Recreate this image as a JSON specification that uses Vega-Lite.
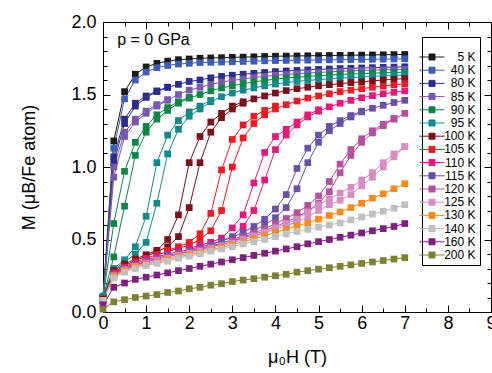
{
"$schema": "https://vega.github.io/schema/vega-lite/v6.json",
"width": 388, "height": 290,
"autosize": {"type": "none"},
"padding": {"left": 103, "top": 22, "right": 1, "bottom": 61},
"background": "white",
"config": {
 "view": {"stroke": "#000", "strokeWidth": 1},
 "axis": {"grid": false, "domain": false, "tickColor": "#000", "tickWidth": 1, "labelColor": "#000", "labelFont": "Liberation Sans", "labelFontSize": 18, "titleFont": "Liberation Sans", "titleFontSize": 18, "titleFontWeight": "normal", "titleColor": "#000"},
 "text": {"font": "Liberation Sans"}
},
"datasets": {"mh": [
{"T":"5 K","b":"u","H":0,"M":0.10},{"T":"5 K","b":"u","H":0.25,"M":1.18},{"T":"5 K","b":"u","H":0.5,"M":1.52},{"T":"5 K","b":"u","H":0.75,"M":1.64},{"T":"5 K","b":"u","H":1,"M":1.69},{"T":"5 K","b":"u","H":1.25,"M":1.715},{"T":"5 K","b":"u","H":1.5,"M":1.73},{"T":"5 K","b":"u","H":1.75,"M":1.74},{"T":"5 K","b":"u","H":2,"M":1.745},{"T":"5 K","b":"u","H":2.25,"M":1.75},{"T":"5 K","b":"u","H":2.5,"M":1.752},{"T":"5 K","b":"u","H":2.75,"M":1.754},{"T":"5 K","b":"u","H":3,"M":1.756},{"T":"5 K","b":"u","H":3.25,"M":1.758},{"T":"5 K","b":"u","H":3.5,"M":1.76},{"T":"5 K","b":"u","H":3.75,"M":1.762},{"T":"5 K","b":"u","H":4,"M":1.764},{"T":"5 K","b":"u","H":4.25,"M":1.765},{"T":"5 K","b":"u","H":4.5,"M":1.766},{"T":"5 K","b":"u","H":4.75,"M":1.767},{"T":"5 K","b":"u","H":5,"M":1.768},{"T":"5 K","b":"u","H":5.25,"M":1.769},{"T":"5 K","b":"u","H":5.5,"M":1.77},{"T":"5 K","b":"u","H":5.75,"M":1.771},{"T":"5 K","b":"u","H":6,"M":1.772},{"T":"5 K","b":"u","H":6.25,"M":1.773},{"T":"5 K","b":"u","H":6.5,"M":1.774},{"T":"5 K","b":"u","H":6.75,"M":1.775},{"T":"5 K","b":"u","H":7,"M":1.776},
{"T":"40 K","b":"u","H":0,"M":0.08},{"T":"40 K","b":"u","H":0.25,"M":1.13},{"T":"40 K","b":"u","H":0.5,"M":1.47},{"T":"40 K","b":"u","H":0.75,"M":1.60},{"T":"40 K","b":"u","H":1,"M":1.655},{"T":"40 K","b":"u","H":1.25,"M":1.685},{"T":"40 K","b":"u","H":1.5,"M":1.70},{"T":"40 K","b":"u","H":1.75,"M":1.71},{"T":"40 K","b":"u","H":2,"M":1.715},{"T":"40 K","b":"u","H":2.25,"M":1.72},{"T":"40 K","b":"u","H":2.5,"M":1.722},{"T":"40 K","b":"u","H":2.75,"M":1.724},{"T":"40 K","b":"u","H":3,"M":1.726},{"T":"40 K","b":"u","H":3.25,"M":1.728},{"T":"40 K","b":"u","H":3.5,"M":1.73},{"T":"40 K","b":"u","H":3.75,"M":1.732},{"T":"40 K","b":"u","H":4,"M":1.734},{"T":"40 K","b":"u","H":4.25,"M":1.735},{"T":"40 K","b":"u","H":4.5,"M":1.736},{"T":"40 K","b":"u","H":4.75,"M":1.737},{"T":"40 K","b":"u","H":5,"M":1.738},{"T":"40 K","b":"u","H":5.25,"M":1.739},{"T":"40 K","b":"u","H":5.5,"M":1.74},{"T":"40 K","b":"u","H":5.75,"M":1.741},{"T":"40 K","b":"u","H":6,"M":1.742},{"T":"40 K","b":"u","H":6.25,"M":1.743},{"T":"40 K","b":"u","H":6.5,"M":1.744},{"T":"40 K","b":"u","H":6.75,"M":1.745},{"T":"40 K","b":"u","H":7,"M":1.746},
{"T":"80 K","b":"u","H":0,"M":0.08},{"T":"80 K","b":"u","H":0.25,"M":1.03},{"T":"80 K","b":"u","H":0.5,"M":1.30},{"T":"80 K","b":"u","H":0.75,"M":1.42},{"T":"80 K","b":"u","H":1,"M":1.48},{"T":"80 K","b":"u","H":1.25,"M":1.52},{"T":"80 K","b":"u","H":1.5,"M":1.55},{"T":"80 K","b":"u","H":1.75,"M":1.57},{"T":"80 K","b":"u","H":2,"M":1.59},{"T":"80 K","b":"u","H":2.25,"M":1.60},{"T":"80 K","b":"u","H":2.5,"M":1.615},{"T":"80 K","b":"u","H":2.75,"M":1.625},{"T":"80 K","b":"u","H":3,"M":1.633},{"T":"80 K","b":"u","H":3.25,"M":1.64},{"T":"80 K","b":"u","H":3.5,"M":1.646},{"T":"80 K","b":"u","H":3.75,"M":1.652},{"T":"80 K","b":"u","H":4,"M":1.658},{"T":"80 K","b":"u","H":4.25,"M":1.662},{"T":"80 K","b":"u","H":4.5,"M":1.666},{"T":"80 K","b":"u","H":4.75,"M":1.67},{"T":"80 K","b":"u","H":5,"M":1.673},{"T":"80 K","b":"u","H":5.25,"M":1.676},{"T":"80 K","b":"u","H":5.5,"M":1.679},{"T":"80 K","b":"u","H":5.75,"M":1.681},{"T":"80 K","b":"u","H":6,"M":1.683},{"T":"80 K","b":"u","H":6.25,"M":1.685},{"T":"80 K","b":"u","H":6.5,"M":1.687},{"T":"80 K","b":"u","H":6.75,"M":1.689},{"T":"80 K","b":"u","H":7,"M":1.691},
{"T":"80 K","b":"d","H":0,"M":0.09},{"T":"80 K","b":"d","H":0.25,"M":1.07},{"T":"80 K","b":"d","H":0.5,"M":1.33},{"T":"80 K","b":"d","H":0.75,"M":1.44},{"T":"80 K","b":"d","H":1,"M":1.49},{"T":"80 K","b":"d","H":1.25,"M":1.525},{"T":"80 K","b":"d","H":1.5,"M":1.55},
{"T":"85 K","b":"u","H":0,"M":0.08},{"T":"85 K","b":"u","H":0.25,"M":0.93},{"T":"85 K","b":"u","H":0.5,"M":1.21},{"T":"85 K","b":"u","H":0.75,"M":1.31},{"T":"85 K","b":"u","H":1,"M":1.37},{"T":"85 K","b":"u","H":1.25,"M":1.42},{"T":"85 K","b":"u","H":1.5,"M":1.46},{"T":"85 K","b":"u","H":1.75,"M":1.50},{"T":"85 K","b":"u","H":2,"M":1.53},{"T":"85 K","b":"u","H":2.25,"M":1.55},{"T":"85 K","b":"u","H":2.5,"M":1.57},{"T":"85 K","b":"u","H":2.75,"M":1.585},{"T":"85 K","b":"u","H":3,"M":1.597},{"T":"85 K","b":"u","H":3.25,"M":1.607},{"T":"85 K","b":"u","H":3.5,"M":1.617},{"T":"85 K","b":"u","H":3.75,"M":1.625},{"T":"85 K","b":"u","H":4,"M":1.632},{"T":"85 K","b":"u","H":4.25,"M":1.638},{"T":"85 K","b":"u","H":4.5,"M":1.643},{"T":"85 K","b":"u","H":4.75,"M":1.648},{"T":"85 K","b":"u","H":5,"M":1.652},{"T":"85 K","b":"u","H":5.25,"M":1.656},{"T":"85 K","b":"u","H":5.5,"M":1.66},{"T":"85 K","b":"u","H":5.75,"M":1.663},{"T":"85 K","b":"u","H":6,"M":1.666},{"T":"85 K","b":"u","H":6.25,"M":1.668},{"T":"85 K","b":"u","H":6.5,"M":1.67},{"T":"85 K","b":"u","H":6.75,"M":1.672},{"T":"85 K","b":"u","H":7,"M":1.674},
{"T":"85 K","b":"d","H":0,"M":0.09},{"T":"85 K","b":"d","H":0.25,"M":1.00},{"T":"85 K","b":"d","H":0.5,"M":1.24},{"T":"85 K","b":"d","H":0.75,"M":1.33},{"T":"85 K","b":"d","H":1,"M":1.385},{"T":"85 K","b":"d","H":1.25,"M":1.43},{"T":"85 K","b":"d","H":1.5,"M":1.465},
{"T":"90 K","b":"u","H":0,"M":0.10},{"T":"90 K","b":"u","H":0.25,"M":0.38},{"T":"90 K","b":"u","H":0.5,"M":0.73},{"T":"90 K","b":"u","H":0.75,"M":1.08},{"T":"90 K","b":"u","H":1,"M":1.24},{"T":"90 K","b":"u","H":1.25,"M":1.33},{"T":"90 K","b":"u","H":1.5,"M":1.39},{"T":"90 K","b":"u","H":1.75,"M":1.44},{"T":"90 K","b":"u","H":2,"M":1.475},{"T":"90 K","b":"u","H":2.25,"M":1.50},{"T":"90 K","b":"u","H":2.5,"M":1.525},{"T":"90 K","b":"u","H":2.75,"M":1.545},{"T":"90 K","b":"u","H":3,"M":1.56},{"T":"90 K","b":"u","H":3.25,"M":1.575},{"T":"90 K","b":"u","H":3.5,"M":1.587},{"T":"90 K","b":"u","H":3.75,"M":1.597},{"T":"90 K","b":"u","H":4,"M":1.606},{"T":"90 K","b":"u","H":4.25,"M":1.613},{"T":"90 K","b":"u","H":4.5,"M":1.62},{"T":"90 K","b":"u","H":4.75,"M":1.625},{"T":"90 K","b":"u","H":5,"M":1.63},{"T":"90 K","b":"u","H":5.25,"M":1.634},{"T":"90 K","b":"u","H":5.5,"M":1.638},{"T":"90 K","b":"u","H":5.75,"M":1.641},{"T":"90 K","b":"u","H":6,"M":1.644},{"T":"90 K","b":"u","H":6.25,"M":1.647},{"T":"90 K","b":"u","H":6.5,"M":1.65},{"T":"90 K","b":"u","H":6.75,"M":1.652},{"T":"90 K","b":"u","H":7,"M":1.654},
{"T":"90 K","b":"d","H":0,"M":0.10},{"T":"90 K","b":"d","H":0.25,"M":0.61},{"T":"90 K","b":"d","H":0.5,"M":0.97},{"T":"90 K","b":"d","H":0.75,"M":1.17},{"T":"90 K","b":"d","H":1,"M":1.28},{"T":"90 K","b":"d","H":1.25,"M":1.36},{"T":"90 K","b":"d","H":1.5,"M":1.41},{"T":"90 K","b":"d","H":1.75,"M":1.45},{"T":"90 K","b":"d","H":2,"M":1.48},
{"T":"95 K","b":"u","H":0,"M":0.10},{"T":"95 K","b":"u","H":0.25,"M":0.29},{"T":"95 K","b":"u","H":0.5,"M":0.345},{"T":"95 K","b":"u","H":0.75,"M":0.40},{"T":"95 K","b":"u","H":1,"M":0.48},{"T":"95 K","b":"u","H":1.25,"M":0.75},{"T":"95 K","b":"u","H":1.5,"M":1.09},{"T":"95 K","b":"u","H":1.75,"M":1.26},{"T":"95 K","b":"u","H":2,"M":1.35},{"T":"95 K","b":"u","H":2.25,"M":1.40},{"T":"95 K","b":"u","H":2.5,"M":1.45},{"T":"95 K","b":"u","H":2.75,"M":1.485},{"T":"95 K","b":"u","H":3,"M":1.51},{"T":"95 K","b":"u","H":3.25,"M":1.53},{"T":"95 K","b":"u","H":3.5,"M":1.545},{"T":"95 K","b":"u","H":3.75,"M":1.56},{"T":"95 K","b":"u","H":4,"M":1.572},{"T":"95 K","b":"u","H":4.25,"M":1.582},{"T":"95 K","b":"u","H":4.5,"M":1.59},{"T":"95 K","b":"u","H":4.75,"M":1.597},{"T":"95 K","b":"u","H":5,"M":1.603},{"T":"95 K","b":"u","H":5.25,"M":1.608},{"T":"95 K","b":"u","H":5.5,"M":1.613},{"T":"95 K","b":"u","H":5.75,"M":1.617},{"T":"95 K","b":"u","H":6,"M":1.621},{"T":"95 K","b":"u","H":6.25,"M":1.625},{"T":"95 K","b":"u","H":6.5,"M":1.628},{"T":"95 K","b":"u","H":6.75,"M":1.631},{"T":"95 K","b":"u","H":7,"M":1.634},
{"T":"95 K","b":"d","H":0,"M":0.11},{"T":"95 K","b":"d","H":0.25,"M":0.30},{"T":"95 K","b":"d","H":0.5,"M":0.36},{"T":"95 K","b":"d","H":0.75,"M":0.45},{"T":"95 K","b":"d","H":1,"M":0.66},{"T":"95 K","b":"d","H":1.25,"M":1.03},{"T":"95 K","b":"d","H":1.5,"M":1.22},{"T":"95 K","b":"d","H":1.75,"M":1.32},{"T":"95 K","b":"d","H":2,"M":1.38},{"T":"95 K","b":"d","H":2.25,"M":1.42},{"T":"95 K","b":"d","H":2.5,"M":1.46},
{"T":"100 K","b":"u","H":0,"M":0.08},{"T":"100 K","b":"u","H":0.25,"M":0.275},{"T":"100 K","b":"u","H":0.5,"M":0.32},{"T":"100 K","b":"u","H":0.75,"M":0.355},{"T":"100 K","b":"u","H":1,"M":0.385},{"T":"100 K","b":"u","H":1.25,"M":0.415},{"T":"100 K","b":"u","H":1.5,"M":0.45},{"T":"100 K","b":"u","H":1.75,"M":0.52},{"T":"100 K","b":"u","H":2,"M":0.72},{"T":"100 K","b":"u","H":2.25,"M":1.03},{"T":"100 K","b":"u","H":2.5,"M":1.24},{"T":"100 K","b":"u","H":2.75,"M":1.34},{"T":"100 K","b":"u","H":3,"M":1.40},{"T":"100 K","b":"u","H":3.25,"M":1.44},{"T":"100 K","b":"u","H":3.5,"M":1.47},{"T":"100 K","b":"u","H":3.75,"M":1.49},{"T":"100 K","b":"u","H":4,"M":1.51},{"T":"100 K","b":"u","H":4.25,"M":1.527},{"T":"100 K","b":"u","H":4.5,"M":1.54},{"T":"100 K","b":"u","H":4.75,"M":1.55},{"T":"100 K","b":"u","H":5,"M":1.56},{"T":"100 K","b":"u","H":5.25,"M":1.568},{"T":"100 K","b":"u","H":5.5,"M":1.575},{"T":"100 K","b":"u","H":5.75,"M":1.582},{"T":"100 K","b":"u","H":6,"M":1.588},{"T":"100 K","b":"u","H":6.25,"M":1.594},{"T":"100 K","b":"u","H":6.5,"M":1.60},{"T":"100 K","b":"u","H":6.75,"M":1.605},{"T":"100 K","b":"u","H":7,"M":1.61},
{"T":"100 K","b":"d","H":0,"M":0.09},{"T":"100 K","b":"d","H":0.25,"M":0.285},{"T":"100 K","b":"d","H":0.5,"M":0.33},{"T":"100 K","b":"d","H":0.75,"M":0.365},{"T":"100 K","b":"d","H":1,"M":0.395},{"T":"100 K","b":"d","H":1.25,"M":0.425},{"T":"100 K","b":"d","H":1.5,"M":0.50},{"T":"100 K","b":"d","H":1.75,"M":0.67},{"T":"100 K","b":"d","H":2,"M":1.03},{"T":"100 K","b":"d","H":2.25,"M":1.21},{"T":"100 K","b":"d","H":2.5,"M":1.31},{"T":"100 K","b":"d","H":2.75,"M":1.37},{"T":"100 K","b":"d","H":3,"M":1.42},{"T":"100 K","b":"d","H":3.25,"M":1.45},
{"T":"105 K","b":"u","H":0,"M":0.08},{"T":"105 K","b":"u","H":0.25,"M":0.27},{"T":"105 K","b":"u","H":0.5,"M":0.31},{"T":"105 K","b":"u","H":0.75,"M":0.345},{"T":"105 K","b":"u","H":1,"M":0.37},{"T":"105 K","b":"u","H":1.25,"M":0.395},{"T":"105 K","b":"u","H":1.5,"M":0.415},{"T":"105 K","b":"u","H":1.75,"M":0.44},{"T":"105 K","b":"u","H":2,"M":0.46},{"T":"105 K","b":"u","H":2.25,"M":0.50},{"T":"105 K","b":"u","H":2.5,"M":0.56},{"T":"105 K","b":"u","H":2.75,"M":0.70},{"T":"105 K","b":"u","H":3,"M":1.00},{"T":"105 K","b":"u","H":3.25,"M":1.20},{"T":"105 K","b":"u","H":3.5,"M":1.30},{"T":"105 K","b":"u","H":3.75,"M":1.36},{"T":"105 K","b":"u","H":4,"M":1.40},{"T":"105 K","b":"u","H":4.25,"M":1.43},{"T":"105 K","b":"u","H":4.5,"M":1.455},{"T":"105 K","b":"u","H":4.75,"M":1.475},{"T":"105 K","b":"u","H":5,"M":1.49},{"T":"105 K","b":"u","H":5.25,"M":1.505},{"T":"105 K","b":"u","H":5.5,"M":1.52},{"T":"105 K","b":"u","H":5.75,"M":1.53},{"T":"105 K","b":"u","H":6,"M":1.54},{"T":"105 K","b":"u","H":6.25,"M":1.55},{"T":"105 K","b":"u","H":6.5,"M":1.558},{"T":"105 K","b":"u","H":6.75,"M":1.566},{"T":"105 K","b":"u","H":7,"M":1.574},
{"T":"105 K","b":"d","H":1.5,"M":0.425},{"T":"105 K","b":"d","H":1.75,"M":0.45},{"T":"105 K","b":"d","H":2,"M":0.48},{"T":"105 K","b":"d","H":2.25,"M":0.54},{"T":"105 K","b":"d","H":2.5,"M":0.68},{"T":"105 K","b":"d","H":2.75,"M":0.98},{"T":"105 K","b":"d","H":3,"M":1.19},{"T":"105 K","b":"d","H":3.25,"M":1.29},{"T":"105 K","b":"d","H":3.5,"M":1.35},{"T":"105 K","b":"d","H":3.75,"M":1.39},{"T":"105 K","b":"d","H":4,"M":1.42},
{"T":"110 K","b":"u","H":0,"M":0.08},{"T":"110 K","b":"u","H":0.25,"M":0.265},{"T":"110 K","b":"u","H":0.5,"M":0.305},{"T":"110 K","b":"u","H":0.75,"M":0.335},{"T":"110 K","b":"u","H":1,"M":0.36},{"T":"110 K","b":"u","H":1.25,"M":0.38},{"T":"110 K","b":"u","H":1.5,"M":0.40},{"T":"110 K","b":"u","H":1.75,"M":0.415},{"T":"110 K","b":"u","H":2,"M":0.43},{"T":"110 K","b":"u","H":2.25,"M":0.45},{"T":"110 K","b":"u","H":2.5,"M":0.465},{"T":"110 K","b":"u","H":2.75,"M":0.49},{"T":"110 K","b":"u","H":3,"M":0.52},{"T":"110 K","b":"u","H":3.25,"M":0.59},{"T":"110 K","b":"u","H":3.5,"M":0.70},{"T":"110 K","b":"u","H":3.75,"M":0.91},{"T":"110 K","b":"u","H":4,"M":1.12},{"T":"110 K","b":"u","H":4.25,"M":1.22},{"T":"110 K","b":"u","H":4.5,"M":1.29},{"T":"110 K","b":"u","H":4.75,"M":1.345},{"T":"110 K","b":"u","H":5,"M":1.385},{"T":"110 K","b":"u","H":5.25,"M":1.415},{"T":"110 K","b":"u","H":5.5,"M":1.44},{"T":"110 K","b":"u","H":5.75,"M":1.46},{"T":"110 K","b":"u","H":6,"M":1.478},{"T":"110 K","b":"u","H":6.25,"M":1.492},{"T":"110 K","b":"u","H":6.5,"M":1.505},{"T":"110 K","b":"u","H":6.75,"M":1.515},{"T":"110 K","b":"u","H":7,"M":1.525},
{"T":"110 K","b":"d","H":2,"M":0.44},{"T":"110 K","b":"d","H":2.25,"M":0.46},{"T":"110 K","b":"d","H":2.5,"M":0.48},{"T":"110 K","b":"d","H":2.75,"M":0.51},{"T":"110 K","b":"d","H":3,"M":0.58},{"T":"110 K","b":"d","H":3.25,"M":0.67},{"T":"110 K","b":"d","H":3.5,"M":0.89},{"T":"110 K","b":"d","H":3.75,"M":1.10},{"T":"110 K","b":"d","H":4,"M":1.21},{"T":"110 K","b":"d","H":4.25,"M":1.26},{"T":"110 K","b":"d","H":4.5,"M":1.31},{"T":"110 K","b":"d","H":4.75,"M":1.36},{"T":"110 K","b":"d","H":5,"M":1.395},
{"T":"115 K","b":"u","H":0,"M":0.08},{"T":"115 K","b":"u","H":0.25,"M":0.26},{"T":"115 K","b":"u","H":0.5,"M":0.30},{"T":"115 K","b":"u","H":0.75,"M":0.325},{"T":"115 K","b":"u","H":1,"M":0.35},{"T":"115 K","b":"u","H":1.25,"M":0.37},{"T":"115 K","b":"u","H":1.5,"M":0.39},{"T":"115 K","b":"u","H":1.75,"M":0.405},{"T":"115 K","b":"u","H":2,"M":0.42},{"T":"115 K","b":"u","H":2.25,"M":0.44},{"T":"115 K","b":"u","H":2.5,"M":0.455},{"T":"115 K","b":"u","H":2.75,"M":0.475},{"T":"115 K","b":"u","H":3,"M":0.50},{"T":"115 K","b":"u","H":3.25,"M":0.525},{"T":"115 K","b":"u","H":3.5,"M":0.56},{"T":"115 K","b":"u","H":3.75,"M":0.60},{"T":"115 K","b":"u","H":4,"M":0.65},{"T":"115 K","b":"u","H":4.25,"M":0.72},{"T":"115 K","b":"u","H":4.5,"M":0.85},{"T":"115 K","b":"u","H":4.75,"M":1.03},{"T":"115 K","b":"u","H":5,"M":1.17},{"T":"115 K","b":"u","H":5.25,"M":1.25},{"T":"115 K","b":"u","H":5.5,"M":1.30},{"T":"115 K","b":"u","H":5.75,"M":1.345},{"T":"115 K","b":"u","H":6,"M":1.38},{"T":"115 K","b":"u","H":6.25,"M":1.405},{"T":"115 K","b":"u","H":6.5,"M":1.425},{"T":"115 K","b":"u","H":6.75,"M":1.445},{"T":"115 K","b":"u","H":7,"M":1.46},
{"T":"115 K","b":"d","H":2.5,"M":0.465},{"T":"115 K","b":"d","H":2.75,"M":0.49},{"T":"115 K","b":"d","H":3,"M":0.515},{"T":"115 K","b":"d","H":3.25,"M":0.55},{"T":"115 K","b":"d","H":3.5,"M":0.59},{"T":"115 K","b":"d","H":3.75,"M":0.64},{"T":"115 K","b":"d","H":4,"M":0.71},{"T":"115 K","b":"d","H":4.25,"M":0.81},{"T":"115 K","b":"d","H":4.5,"M":0.99},{"T":"115 K","b":"d","H":4.75,"M":1.13},{"T":"115 K","b":"d","H":5,"M":1.22},{"T":"115 K","b":"d","H":5.25,"M":1.28},{"T":"115 K","b":"d","H":5.5,"M":1.32},{"T":"115 K","b":"d","H":5.75,"M":1.355},{"T":"115 K","b":"d","H":6,"M":1.385},
{"T":"120 K","b":"u","H":0,"M":0.08},{"T":"120 K","b":"u","H":0.25,"M":0.255},{"T":"120 K","b":"u","H":0.5,"M":0.295},{"T":"120 K","b":"u","H":0.75,"M":0.32},{"T":"120 K","b":"u","H":1,"M":0.345},{"T":"120 K","b":"u","H":1.25,"M":0.365},{"T":"120 K","b":"u","H":1.5,"M":0.38},{"T":"120 K","b":"u","H":1.75,"M":0.40},{"T":"120 K","b":"u","H":2,"M":0.415},{"T":"120 K","b":"u","H":2.25,"M":0.43},{"T":"120 K","b":"u","H":2.5,"M":0.45},{"T":"120 K","b":"u","H":2.75,"M":0.465},{"T":"120 K","b":"u","H":3,"M":0.485},{"T":"120 K","b":"u","H":3.25,"M":0.51},{"T":"120 K","b":"u","H":3.5,"M":0.535},{"T":"120 K","b":"u","H":3.75,"M":0.56},{"T":"120 K","b":"u","H":4,"M":0.59},{"T":"120 K","b":"u","H":4.25,"M":0.62},{"T":"120 K","b":"u","H":4.5,"M":0.655},{"T":"120 K","b":"u","H":4.75,"M":0.695},{"T":"120 K","b":"u","H":5,"M":0.75},{"T":"120 K","b":"u","H":5.25,"M":0.83},{"T":"120 K","b":"u","H":5.5,"M":0.96},{"T":"120 K","b":"u","H":5.75,"M":1.08},{"T":"120 K","b":"u","H":6,"M":1.17},{"T":"120 K","b":"u","H":6.25,"M":1.235},{"T":"120 K","b":"u","H":6.5,"M":1.285},{"T":"120 K","b":"u","H":6.75,"M":1.33},{"T":"120 K","b":"u","H":7,"M":1.37},
{"T":"120 K","b":"d","H":3,"M":0.49},{"T":"120 K","b":"d","H":3.25,"M":0.515},{"T":"120 K","b":"d","H":3.5,"M":0.545},{"T":"120 K","b":"d","H":3.75,"M":0.575},{"T":"120 K","b":"d","H":4,"M":0.61},{"T":"120 K","b":"d","H":4.25,"M":0.645},{"T":"120 K","b":"d","H":4.5,"M":0.685},{"T":"120 K","b":"d","H":4.75,"M":0.735},{"T":"120 K","b":"d","H":5,"M":0.80},{"T":"120 K","b":"d","H":5.25,"M":0.90},{"T":"120 K","b":"d","H":5.5,"M":1.02},{"T":"120 K","b":"d","H":5.75,"M":1.12},{"T":"120 K","b":"d","H":6,"M":1.195},{"T":"120 K","b":"d","H":6.25,"M":1.25},{"T":"120 K","b":"d","H":6.5,"M":1.295},{"T":"120 K","b":"d","H":6.75,"M":1.335},
{"T":"125 K","b":"u","H":0,"M":0.08},{"T":"125 K","b":"u","H":0.25,"M":0.25},{"T":"125 K","b":"u","H":0.5,"M":0.29},{"T":"125 K","b":"u","H":0.75,"M":0.315},{"T":"125 K","b":"u","H":1,"M":0.335},{"T":"125 K","b":"u","H":1.25,"M":0.355},{"T":"125 K","b":"u","H":1.5,"M":0.37},{"T":"125 K","b":"u","H":1.75,"M":0.39},{"T":"125 K","b":"u","H":2,"M":0.405},{"T":"125 K","b":"u","H":2.25,"M":0.42},{"T":"125 K","b":"u","H":2.5,"M":0.44},{"T":"125 K","b":"u","H":2.75,"M":0.455},{"T":"125 K","b":"u","H":3,"M":0.475},{"T":"125 K","b":"u","H":3.25,"M":0.50},{"T":"125 K","b":"u","H":3.5,"M":0.52},{"T":"125 K","b":"u","H":3.75,"M":0.545},{"T":"125 K","b":"u","H":4,"M":0.57},{"T":"125 K","b":"u","H":4.25,"M":0.595},{"T":"125 K","b":"u","H":4.5,"M":0.62},{"T":"125 K","b":"u","H":4.75,"M":0.655},{"T":"125 K","b":"u","H":5,"M":0.70},{"T":"125 K","b":"u","H":5.25,"M":0.74},{"T":"125 K","b":"u","H":5.5,"M":0.77},{"T":"125 K","b":"u","H":5.75,"M":0.81},{"T":"125 K","b":"u","H":6,"M":0.87},{"T":"125 K","b":"u","H":6.25,"M":0.93},{"T":"125 K","b":"u","H":6.5,"M":1.00},{"T":"125 K","b":"u","H":6.75,"M":1.07},{"T":"125 K","b":"u","H":7,"M":1.14},
{"T":"125 K","b":"d","H":3.5,"M":0.525},{"T":"125 K","b":"d","H":3.75,"M":0.55},{"T":"125 K","b":"d","H":4,"M":0.58},{"T":"125 K","b":"d","H":4.25,"M":0.61},{"T":"125 K","b":"d","H":4.5,"M":0.64},{"T":"125 K","b":"d","H":4.75,"M":0.69},{"T":"125 K","b":"d","H":5,"M":0.74},{"T":"125 K","b":"d","H":5.25,"M":0.78},{"T":"125 K","b":"d","H":5.5,"M":0.82},{"T":"125 K","b":"d","H":5.75,"M":0.86},{"T":"125 K","b":"d","H":6,"M":0.91},{"T":"125 K","b":"d","H":6.25,"M":0.96},{"T":"125 K","b":"d","H":6.5,"M":1.03},{"T":"125 K","b":"d","H":6.75,"M":1.09},{"T":"125 K","b":"d","H":7,"M":1.14},
{"T":"130 K","b":"u","H":0,"M":0.08},{"T":"130 K","b":"u","H":0.25,"M":0.245},{"T":"130 K","b":"u","H":0.5,"M":0.285},{"T":"130 K","b":"u","H":0.75,"M":0.31},{"T":"130 K","b":"u","H":1,"M":0.33},{"T":"130 K","b":"u","H":1.25,"M":0.345},{"T":"130 K","b":"u","H":1.5,"M":0.36},{"T":"130 K","b":"u","H":1.75,"M":0.38},{"T":"130 K","b":"u","H":2,"M":0.395},{"T":"130 K","b":"u","H":2.25,"M":0.41},{"T":"130 K","b":"u","H":2.5,"M":0.43},{"T":"130 K","b":"u","H":2.75,"M":0.445},{"T":"130 K","b":"u","H":3,"M":0.465},{"T":"130 K","b":"u","H":3.25,"M":0.485},{"T":"130 K","b":"u","H":3.5,"M":0.505},{"T":"130 K","b":"u","H":3.75,"M":0.525},{"T":"130 K","b":"u","H":4,"M":0.55},{"T":"130 K","b":"u","H":4.25,"M":0.57},{"T":"130 K","b":"u","H":4.5,"M":0.595},{"T":"130 K","b":"u","H":4.75,"M":0.615},{"T":"130 K","b":"u","H":5,"M":0.64},{"T":"130 K","b":"u","H":5.25,"M":0.665},{"T":"130 K","b":"u","H":5.5,"M":0.69},{"T":"130 K","b":"u","H":5.75,"M":0.72},{"T":"130 K","b":"u","H":6,"M":0.75},{"T":"130 K","b":"u","H":6.25,"M":0.785},{"T":"130 K","b":"u","H":6.5,"M":0.815},{"T":"130 K","b":"u","H":6.75,"M":0.85},{"T":"130 K","b":"u","H":7,"M":0.885},
{"T":"140 K","b":"u","H":0,"M":0.08},{"T":"140 K","b":"u","H":0.25,"M":0.235},{"T":"140 K","b":"u","H":0.5,"M":0.275},{"T":"140 K","b":"u","H":0.75,"M":0.30},{"T":"140 K","b":"u","H":1,"M":0.32},{"T":"140 K","b":"u","H":1.25,"M":0.335},{"T":"140 K","b":"u","H":1.5,"M":0.35},{"T":"140 K","b":"u","H":1.75,"M":0.37},{"T":"140 K","b":"u","H":2,"M":0.385},{"T":"140 K","b":"u","H":2.25,"M":0.40},{"T":"140 K","b":"u","H":2.5,"M":0.42},{"T":"140 K","b":"u","H":2.75,"M":0.435},{"T":"140 K","b":"u","H":3,"M":0.45},{"T":"140 K","b":"u","H":3.25,"M":0.47},{"T":"140 K","b":"u","H":3.5,"M":0.485},{"T":"140 K","b":"u","H":3.75,"M":0.50},{"T":"140 K","b":"u","H":4,"M":0.52},{"T":"140 K","b":"u","H":4.25,"M":0.54},{"T":"140 K","b":"u","H":4.5,"M":0.555},{"T":"140 K","b":"u","H":4.75,"M":0.57},{"T":"140 K","b":"u","H":5,"M":0.585},{"T":"140 K","b":"u","H":5.25,"M":0.60},{"T":"140 K","b":"u","H":5.5,"M":0.615},{"T":"140 K","b":"u","H":5.75,"M":0.635},{"T":"140 K","b":"u","H":6,"M":0.655},{"T":"140 K","b":"u","H":6.25,"M":0.675},{"T":"140 K","b":"u","H":6.5,"M":0.695},{"T":"140 K","b":"u","H":6.75,"M":0.715},{"T":"140 K","b":"u","H":7,"M":0.74},
{"T":"160 K","b":"u","H":0,"M":0.05},{"T":"160 K","b":"u","H":0.25,"M":0.17},{"T":"160 K","b":"u","H":0.5,"M":0.20},{"T":"160 K","b":"u","H":0.75,"M":0.225},{"T":"160 K","b":"u","H":1,"M":0.24},{"T":"160 K","b":"u","H":1.25,"M":0.255},{"T":"160 K","b":"u","H":1.5,"M":0.27},{"T":"160 K","b":"u","H":1.75,"M":0.285},{"T":"160 K","b":"u","H":2,"M":0.30},{"T":"160 K","b":"u","H":2.25,"M":0.315},{"T":"160 K","b":"u","H":2.5,"M":0.33},{"T":"160 K","b":"u","H":2.75,"M":0.345},{"T":"160 K","b":"u","H":3,"M":0.36},{"T":"160 K","b":"u","H":3.25,"M":0.375},{"T":"160 K","b":"u","H":3.5,"M":0.39},{"T":"160 K","b":"u","H":3.75,"M":0.405},{"T":"160 K","b":"u","H":4,"M":0.42},{"T":"160 K","b":"u","H":4.25,"M":0.435},{"T":"160 K","b":"u","H":4.5,"M":0.45},{"T":"160 K","b":"u","H":4.75,"M":0.47},{"T":"160 K","b":"u","H":5,"M":0.485},{"T":"160 K","b":"u","H":5.25,"M":0.50},{"T":"160 K","b":"u","H":5.5,"M":0.515},{"T":"160 K","b":"u","H":5.75,"M":0.53},{"T":"160 K","b":"u","H":6,"M":0.545},{"T":"160 K","b":"u","H":6.25,"M":0.56},{"T":"160 K","b":"u","H":6.5,"M":0.575},{"T":"160 K","b":"u","H":6.75,"M":0.59},{"T":"160 K","b":"u","H":7,"M":0.61},
{"T":"200 K","b":"u","H":0,"M":0.02},{"T":"200 K","b":"u","H":0.25,"M":0.07},{"T":"200 K","b":"u","H":0.5,"M":0.085},{"T":"200 K","b":"u","H":0.75,"M":0.10},{"T":"200 K","b":"u","H":1,"M":0.11},{"T":"200 K","b":"u","H":1.25,"M":0.12},{"T":"200 K","b":"u","H":1.5,"M":0.135},{"T":"200 K","b":"u","H":1.75,"M":0.145},{"T":"200 K","b":"u","H":2,"M":0.16},{"T":"200 K","b":"u","H":2.25,"M":0.17},{"T":"200 K","b":"u","H":2.5,"M":0.185},{"T":"200 K","b":"u","H":2.75,"M":0.195},{"T":"200 K","b":"u","H":3,"M":0.21},{"T":"200 K","b":"u","H":3.25,"M":0.22},{"T":"200 K","b":"u","H":3.5,"M":0.23},{"T":"200 K","b":"u","H":3.75,"M":0.24},{"T":"200 K","b":"u","H":4,"M":0.25},{"T":"200 K","b":"u","H":4.25,"M":0.26},{"T":"200 K","b":"u","H":4.5,"M":0.275},{"T":"200 K","b":"u","H":4.75,"M":0.285},{"T":"200 K","b":"u","H":5,"M":0.295},{"T":"200 K","b":"u","H":5.25,"M":0.305},{"T":"200 K","b":"u","H":5.5,"M":0.315},{"T":"200 K","b":"u","H":5.75,"M":0.325},{"T":"200 K","b":"u","H":6,"M":0.335},{"T":"200 K","b":"u","H":6.25,"M":0.345},{"T":"200 K","b":"u","H":6.5,"M":0.355},{"T":"200 K","b":"u","H":6.75,"M":0.365},{"T":"200 K","b":"u","H":7,"M":0.375}
]},
"resolve": {"axis": {"x": "independent", "y": "independent"}},
"layer": [
 {
  "data": {"name": "mh"},
  "mark": {"type": "line", "strokeWidth": 1},
  "encoding": {
   "x": {"field": "H", "type": "quantitative", "scale": {"domain": [0, 9], "nice": false, "zero": false},
    "axis": {"orient": "bottom", "values": [0,1,2,3,4,5,6,7,8,9], "format": "d", "tickSize": -7, "labelPadding": 9, "labelFlush": false, "labelOverlap": false, "title": "μ₀H (T)", "titlePadding": 16}},
   "y": {"field": "M", "type": "quantitative", "scale": {"domain": [0, 2], "nice": false, "zero": false},
    "axis": {"orient": "left", "values": [0,0.5,1,1.5,2], "format": ".1f", "tickSize": -7, "labelPadding": 14, "labelFlush": false, "labelOverlap": false, "title": "M (μB/Fe atom)", "titlePadding": 32}},
   "color": {"field": "T", "type": "nominal",
    "scale": {"domain": ["5 K","40 K","80 K","85 K","90 K","95 K","100 K","105 K","110 K","115 K","120 K","125 K","130 K","140 K","160 K","200 K"],
              "range": ["#1a1a1a","#3b5cb8","#2b2d8e","#7857b5","#0f8645","#128a8a","#7b1019","#ec1c24","#e8177a","#6b4fa8","#b74f9f","#d98cc4","#f7891f","#c0c0c0","#7f2180","#808033"]},
    "legend": {"orient": "none", "legendX": 319, "legendY": 15, "title": " ", "titleFontSize": 1, "titlePadding": 9, "padding": 4, "strokeColor": "#000", "fillColor": "white", "symbolType": "M-2.5,0H2.5M-0.6,-0.6H0.6V0.6H-0.6Z", "symbolSize": 100, "symbolStrokeWidth": 1, "labelFont": "Liberation Sans", "labelFontSize": 12, "labelColor": "#000", "labelAlign": "right", "labelOffset": 37.5, "rowPadding": 1.2,
     "encode": {"symbols": {"update": {"fill": {"scale": "color", "field": "value"}, "stroke": {"scale": "color", "field": "value"}, "strokeWidth": {"value": 1}, "opacity": {"value": 1}}}}}},
   "detail": {"field": "b"},
   "order": {"field": "H"}
  }
 },
 {
  "data": {"name": "mh"},
  "mark": {"type": "point", "shape": "square", "filled": true, "size": 45, "opacity": 1},
  "encoding": {
   "x": {"field": "H", "type": "quantitative",
    "axis": {"orient": "bottom", "values": [0.5,1.5,2.5,3.5,4.5,5.5,6.5,7.5,8.5], "tickSize": -4, "labels": false, "title": null}},
   "y": {"field": "M", "type": "quantitative",
    "axis": {"orient": "left", "values": [0.1,0.2,0.3,0.4,0.6,0.7,0.8,0.9,1.1,1.2,1.3,1.4,1.6,1.7,1.8,1.9], "tickSize": -4, "labels": false, "title": null}},
   "color": {"field": "T", "type": "nominal",
    "legend": {"orient": "none", "legendX": 319, "legendY": 15, "title": " ", "titleFontSize": 1, "titlePadding": 9, "padding": 4, "strokeColor": "#000", "fillColor": "white", "symbolType": "M-2.5,0H2.5M-0.6,-0.6H0.6V0.6H-0.6Z", "symbolSize": 100, "symbolStrokeWidth": 1, "labelFont": "Liberation Sans", "labelFontSize": 12, "labelColor": "#000", "labelAlign": "right", "labelOffset": 37.5, "rowPadding": 1.2,
     "encode": {"symbols": {"update": {"fill": {"scale": "color", "field": "value"}, "stroke": {"scale": "color", "field": "value"}, "strokeWidth": {"value": 1}, "opacity": {"value": 1}}}}}}
  }
 },
 {
  "data": {"values": [{}]},
  "mark": {"type": "text", "align": "left", "baseline": "alphabetic", "fontSize": 16, "color": "#000", "font": "Liberation Sans"},
  "encoding": {
   "x": {"datum": 0.33, "type": "quantitative",
    "axis": {"orient": "top", "values": [0,1,2,3,4,5,6,7,8,9], "tickSize": -7, "labels": false, "title": null}},
   "y": {"datum": 1.84, "type": "quantitative",
    "axis": {"orient": "right", "values": [0,0.5,1,1.5,2], "tickSize": -7, "labels": false, "title": null}},
   "text": {"value": "p = 0 GPa"}
  }
 },
 {
  "data": {"values": [{}]},
  "mark": {"type": "text", "fontSize": 1},
  "encoding": {
   "x": {"datum": 0, "type": "quantitative",
    "axis": {"orient": "top", "values": [0.5,1.5,2.5,3.5,4.5,5.5,6.5,7.5,8.5], "tickSize": -4, "labels": false, "title": null}},
   "y": {"datum": 0, "type": "quantitative",
    "axis": {"orient": "right", "values": [0.1,0.2,0.3,0.4,0.6,0.7,0.8,0.9,1.1,1.2,1.3,1.4,1.6,1.7,1.8,1.9], "tickSize": -4, "labels": false, "title": null}},
   "text": {"value": ""}
  }
 }
]
}
